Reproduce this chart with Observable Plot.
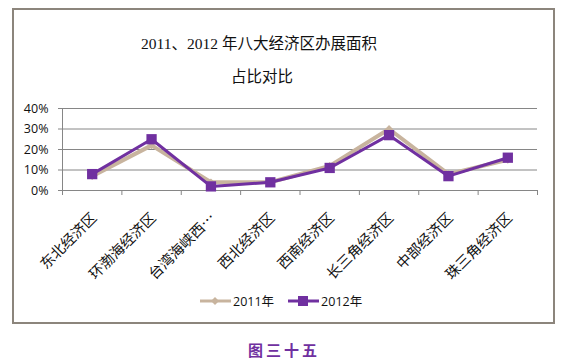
<!DOCTYPE html>
<html>
<head>
<meta charset="utf-8">
<script src="https://cdn.jsdelivr.net/npm/d3@7"></script>
<script src="https://cdn.jsdelivr.net/npm/@observablehq/plot@0.6"></script>
<style>
  html, body { margin: 0; padding: 0; background: #fff; }
  #wrap { position: relative; width: 569px; height: 363px; overflow: hidden; }
  #frame { position: absolute; left: 12px; top: 8px; width: 539px; height: 312px; border: 2px solid #8c857c; }
  #plot { position: absolute; left: 0; top: 0; }
  .title { position: absolute; font-family: "Liberation Serif", "Noto Sans CJK SC", serif; font-size: 15.5px; color: #111; white-space: nowrap; transform: translateX(-50%); }
  #legend { position: absolute; top: 291px; left: 200px; font-family: "Open Sans", "Noto Sans CJK SC", sans-serif; font-size: 12.5px; color: #111; display: flex; align-items: center; white-space: nowrap; }
  #legend .item { display: flex; align-items: center; margin-right: 14px; }
  #legend svg { margin-right: 2px; }
  #caption { position: absolute; top: 339px; left: 284px; transform: translateX(-50%); font-family: "Noto Sans CJK SC", sans-serif; font-weight: bold; font-size: 15px; letter-spacing: 3px; color: #7030a0; white-space: nowrap; }
</style>
</head>
<body>
<div id="wrap">
  <div id="frame"></div>
  <div id="plot"></div>
  <div class="title" style="left:259px; top:31px;">2011、2012 年八大经济区办展面积</div>
  <div class="title" style="left:262px; top:64px;">占比对比</div>
  <div id="legend"></div>
  <div id="caption">图三十五</div>
</div>
<script>
const categories = ["东北经济区", "环渤海经济区", "台湾海峡西…", "西北经济区", "西南经济区", "长三角经济区", "中部经济区", "珠三角经济区"];
const values2011 = [0.07, 0.22, 0.04, 0.04, 0.12, 0.30, 0.08, 0.15];
const values2012 = [0.08, 0.25, 0.02, 0.04, 0.11, 0.27, 0.07, 0.16];
const yTicks = [0, 0.1, 0.2, 0.3, 0.4];
const seriesNames = ["2011年", "2012年"];
const colors = ["#c8b49e", "#7030a0"];

const rows2011 = categories.map((c, i) => ({i: i + 0.5, c, v: values2011[i]}));
const rows2012 = categories.map((c, i) => ({i: i + 0.5, c, v: values2012[i]}));
const boundaries = d3.range(categories.length + 1);

const chart = Plot.plot({
  width: 569,
  height: 363,
  marginLeft: 62,
  marginRight: 32,
  marginTop: 108,
  marginBottom: 173,
  style: {background: "transparent", fontFamily: "'Open Sans', 'Noto Sans CJK SC', sans-serif", fontSize: "12.5px", color: "#111"},
  x: {type: "linear", domain: [0, categories.length], axis: null},
  y: {type: "linear", domain: [0, 0.4], axis: null},
  marks: [
    Plot.ruleY(yTicks, {x1: 0, x2: categories.length, insetLeft: -4, stroke: "#868686", strokeWidth: 1, strokeOpacity: 1}),
    Plot.ruleX([0], {stroke: "#868686", strokeWidth: 1, strokeOpacity: 1}),
    Plot.ruleX(boundaries, {x: d => d, y1: 0, y2: 0, insetBottom: -5, stroke: "#868686", strokeOpacity: 1}),
    Plot.text(yTicks, {x: 0, y: d => d, text: d => Math.round(d * 100) + "%", textAnchor: "end", dx: -14, fill: "#111"}),
    Plot.text(rows2012, {x: "i", y: 0, text: "c", rotate: -45, textAnchor: "end", lineAnchor: "middle", dx: 2, dy: 25, fontSize: 14.5, fontFamily: "'Noto Sans CJK SC', sans-serif", fill: "#111"}),
    Plot.line(rows2011, {x: "i", y: "v", stroke: colors[0], strokeWidth: 4}),
    Plot.dot(rows2011, {x: "i", y: "v", symbol: "diamond2", r: 3.5, fill: colors[0], stroke: "none"}),
    Plot.line(rows2012, {x: "i", y: "v", stroke: colors[1], strokeWidth: 3}),
    Plot.dot(rows2012, {x: "i", y: "v", symbol: "square", r: 5.8, fill: colors[1], stroke: "none"})
  ]
});
document.getElementById("plot").appendChild(chart);

const legend = document.getElementById("legend");
seriesNames.forEach((name, k) => {
  const item = document.createElement("div");
  item.className = "item";
  const marker = k === 0
    ? `<polygon points="15,1 19,5 15,9 11,5" fill="${colors[0]}"/>`
    : `<rect x="10" y="0" width="10" height="10" fill="${colors[1]}"/>`;
  item.innerHTML = `<svg width="31" height="10"><line x1="0" y1="5" x2="31" y2="5" stroke="${colors[k]}" stroke-width="3"/>${marker}</svg><span>${name}</span>`;
  legend.appendChild(item);
});
</script>
</body>
</html>
